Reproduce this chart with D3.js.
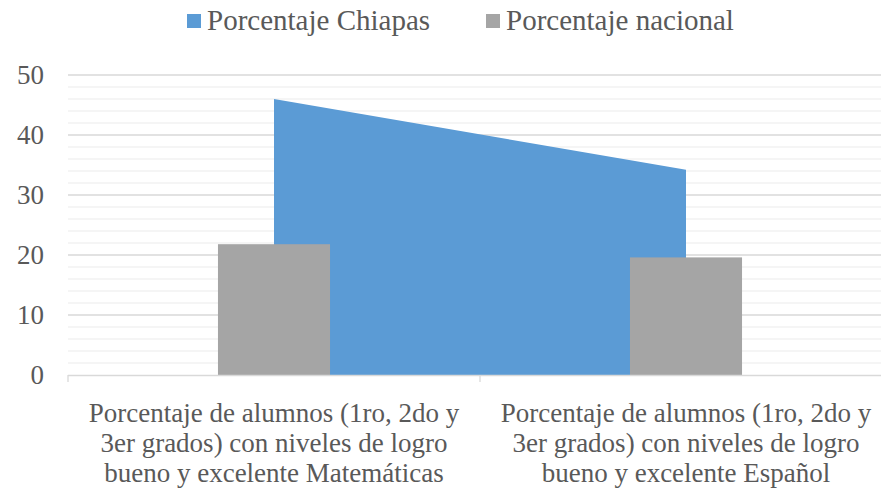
<!DOCTYPE html>
<html><head><meta charset="utf-8">
<script src="https://cdn.jsdelivr.net/npm/d3@7"></script>
<style>body{margin:0;background:#fff}svg{display:block}</style>
</head><body>
<svg id="c" width="881" height="489"></svg>
<script>
const categories = [
  ["Porcentaje de alumnos (1ro, 2do y", "3er grados) con niveles de logro", "bueno y excelente Matemáticas"],
  ["Porcentaje de alumnos (1ro, 2do y", "3er grados) con niveles de logro", "bueno y excelente Español"]
];
const chiapas = [46.0, 34.2];
const nacional = [21.8, 19.6];
const seriesNames = ["Porcentaje Chiapas", "Porcentaje nacional"];
const yTicks = [0, 10, 20, 30, 40, 50];

(function () {
const svg = d3.select("#c");
const font = "Liberation Serif";
const fs = 27;
const pLeft = 68, pRight = 892, pTop = 75, pBottom = 375;
const x = d3.scaleBand().domain(d3.range(categories.length)).range([pLeft, pRight]);
const y = d3.scaleLinear().domain([0, 50]).range([pBottom, pTop]);

// minor gridlines
svg.append("g").selectAll("line").data(d3.range(0, 51, 2).filter(v => v % 10 !== 0)).join("line")
  .attr("x1", pLeft).attr("x2", pRight).attr("y1", d => y(d)).attr("y2", d => y(d))
  .attr("stroke", "#f2f2f2").attr("stroke-width", 1.3);
// major gridlines
svg.append("g").selectAll("line").data(yTicks.filter(v => v > 0)).join("line")
  .attr("x1", pLeft).attr("x2", pRight).attr("y1", d => y(d)).attr("y2", d => y(d))
  .attr("stroke", "#d9d9d9").attr("stroke-width", 1.3);

// area
const area = d3.area().x((d, i) => x(i) + x.bandwidth() / 2).y0(y(0)).y1(d => y(d));
svg.append("path").datum(chiapas).attr("d", area).attr("fill", "#5b9bd5");

// bars
const bw = x.bandwidth() * 0.272;
svg.append("g").selectAll("rect").data(nacional).join("rect")
  .attr("x", (d, i) => x(i) + x.bandwidth() / 2 - bw / 2)
  .attr("width", bw)
  .attr("y", d => y(d)).attr("height", d => y(0) - y(d))
  .attr("fill", "#a5a5a5");

// x axis
svg.append("line").attr("x1", pLeft).attr("x2", pRight).attr("y1", pBottom + 0.5).attr("y2", pBottom + 0.5)
  .attr("stroke", "#d9d9d9").attr("stroke-width", 1.3);
svg.append("g").selectAll("line").data(d3.range(categories.length + 1)).join("line")
  .attr("x1", d => pLeft + d * x.bandwidth()).attr("x2", d => pLeft + d * x.bandwidth())
  .attr("y1", pBottom).attr("y2", pBottom + 7)
  .attr("stroke", "#d9d9d9").attr("stroke-width", 1.3);

// y labels
svg.append("g").selectAll("text").data(yTicks).join("text")
  .attr("x", 44).attr("y", d => y(d)).attr("dy", "0.35em")
  .attr("text-anchor", "end").attr("font-family", font).attr("font-size", fs)
  .attr("fill", "#595959").text(d => d);

// category labels
categories.forEach((lines, i) => {
  svg.append("text").attr("text-anchor", "middle").attr("font-family", font)
    .attr("font-size", fs).attr("fill", "#595959")
    .selectAll("tspan").data(lines).join("tspan")
    .attr("x", x(i) + x.bandwidth() / 2).attr("y", (d, j) => 422 + j * 30).text(d => d);
});

// legend
const leg = [{n: seriesNames[0], c: "#5b9bd5", x: 187}, {n: seriesNames[1], c: "#a5a5a5", x: 486}];
leg.forEach(l => {
  svg.append("rect").attr("x", l.x).attr("y", 14).attr("width", 14).attr("height", 14).attr("fill", l.c);
  svg.append("text").attr("x", l.x + 20).attr("y", 30).attr("font-family", font).attr("font-size", 29)
    .attr("fill", "#595959").text(l.n);
});
})();
</script>
</body></html>
